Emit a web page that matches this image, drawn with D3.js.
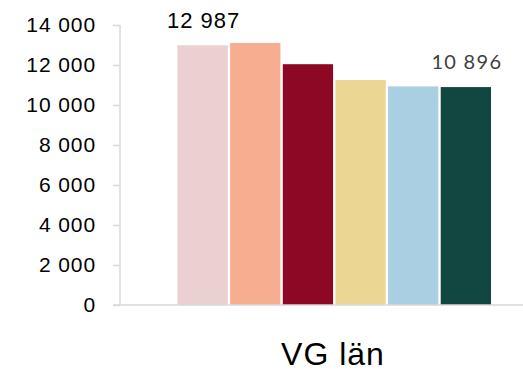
<!DOCTYPE html>
<meta charset="utf-8">
<script src="https://d3js.org/d3.v7.min.js"></script>
<style>
body { margin: 0; background: #fff; }
text { font-family: "Liberation Sans", Arial, sans-serif; }
</style>
<body>
<script>
// data
var category = "VG län";
var series = ["s1", "s2", "s3", "s4", "s5", "s6"];
var values = [12987, 13100, 12040, 11250, 10930, 10896];
var colors = ["#ebd0d1", "#f6ad90", "#8d0824", "#ecd693", "#aacfe2", "#124640"];
var tickValues = [0, 2000, 4000, 6000, 8000, 10000, 12000, 14000];

var width = 523, height = 371;

var svg = d3.select("body").append("svg")
    .attr("width", width)
    .attr("height", height);

var y = d3.scaleLinear().domain([0, 14000]).range([305, 25]);
var x = d3.scaleBand().domain(series).range([177.5, 491]).paddingInner(0.045);

var fmt = function(v) { return d3.format(",")(v).replace(/,/g, " "); };

// y axis
var yAxis = svg.append("g")
    .attr("transform", "translate(120,0)")
    .call(d3.axisLeft(y).tickValues(tickValues).tickSize(7).tickPadding(17).tickFormat(fmt));
yAxis.select(".domain").attr("stroke", "#d9d9d9").attr("stroke-width", 1.5)
    .attr("d", "M0," + y(14000) + "V" + y(0));
yAxis.selectAll(".tick line").attr("stroke", "#d9d9d9").attr("stroke-width", 1.5);
yAxis.selectAll(".tick text")
    .attr("fill", "#000")
    .style("font-size", "21px")
    .style("letter-spacing", "0.9px")
    .style("font-family", "'Liberation Sans', Arial, sans-serif");

// bars
svg.selectAll("rect.bar")
    .data(values)
    .enter().append("rect")
    .attr("class", "bar")
    .attr("x", function(d, i) { return x(series[i]); })
    .attr("y", function(d) { return y(d); })
    .attr("width", x.bandwidth())
    .attr("height", function(d) { return y(0) - y(d); })
    .attr("fill", function(d, i) { return colors[i]; });

// baseline
svg.append("line")
    .attr("x1", 113).attr("x2", width)
    .attr("y1", y(0)).attr("y2", y(0))
    .attr("stroke", "#d9d9d9").attr("stroke-width", 1.5);

// value labels (first and last)
var first = series[0], last = series[series.length - 1];
svg.append("text")
    .attr("x", x(first) + x.bandwidth() / 2 + 1)
    .attr("y", 28.3)
    .attr("text-anchor", "middle")
    .style("font-size", "22px")
    .style("letter-spacing", "1px")
    .attr("fill", "#000")
    .text(fmt(values[0]));

svg.append("text")
    .attr("x", x(last) + x.bandwidth() / 2 + 1)
    .attr("y", 69.3)
    .attr("text-anchor", "middle")
    .style("font-size", "20px")
    .style("letter-spacing", "1.3px")
    .style("font-family", "Lato, 'Liberation Sans', sans-serif")
    .attr("fill", "#404040")
    .text(fmt(values[values.length - 1]));

// category label
svg.append("text")
    .attr("x", 333)
    .attr("y", 365)
    .attr("text-anchor", "middle")
    .style("font-size", "32px")
    .style("letter-spacing", "1px")
    .attr("fill", "#000")
    .text(category);
</script>
</body>
